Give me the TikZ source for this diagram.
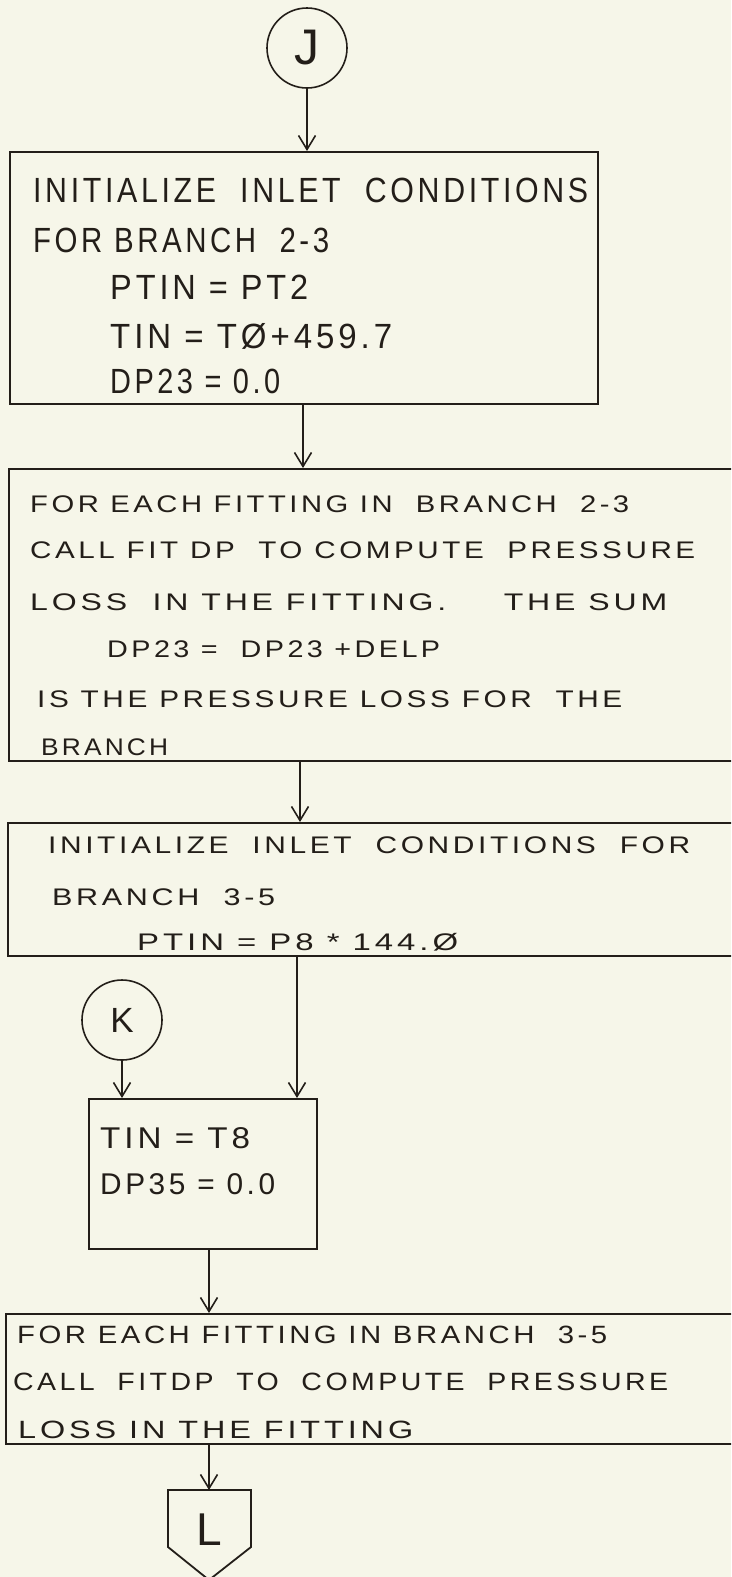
\documentclass[tikz,border=0pt]{standalone}
\usepackage{fontspec}
\usepackage{graphicx}
\setmainfont{Liberation Sans}[LetterSpace=12]
\usetikzlibrary{arrows.meta}
\definecolor{paper}{RGB}{246,246,233}
\definecolor{ink}{RGB}{35,30,25}
\newcommand\fitw[2]{\resizebox{#1pt}{\height}{#2}}
\tikzset{
  every picture/.style={x=1pt,y=-1pt},
  box/.style={draw=ink, line width=1.8pt, rectangle, anchor=north west, inner sep=0pt},
  conn/.style={circle, draw=ink, line width=1.6pt, minimum size=80pt, inner sep=0pt, text=ink},
  tl/.style={anchor=base west, inner sep=0pt, text=ink},
  arr/.style={draw=ink, line width=1.6pt, -{Straight Barb[length=14pt,width=17pt,line width=1.6pt]}},
  fA/.style={font=\fontsize{35}{40}\selectfont},
  fB/.style={font=\fontsize{24}{28}\selectfont},
  fC/.style={font=\fontsize{30}{34}\selectfont},
  fD/.style={font=\fontsize{25}{29}\selectfont}
}
\begin{document}
\begin{tikzpicture}
\path[use as bounding box] (0,0) rectangle (731,1577);
\clip (0,0) rectangle (731,1577);
\fill[paper] (0,0) rectangle (731,1577);

% connectors J and K
\node[conn, font=\fontsize{50}{54}\selectfont] (J) at (307,48) {J};
\node[conn, font=\fontsize{35}{40}\selectfont] (K) at (122,1020) {K};

% boxes
\node[box, minimum width=588pt, minimum height=252pt] (b1) at (9,151) {};
\node[box, minimum width=760pt, minimum height=292pt] (b2) at (8,468) {};
\node[box, minimum width=760pt, minimum height=133pt] (b3) at (7,822) {};
\node[box, minimum width=228pt, minimum height=150pt] (b4) at (88,1098) {};
\node[box, minimum width=760pt, minimum height=130pt] (b5) at (5,1313) {};

% box 1 text
\node[tl,fA] (t11) at (33,202) {\fitw{555}{INITIALIZE\ \ INLET\ \ CONDITIONS}};
\node[tl,fA] (t12) at (33,252) {\fitw{296}{FOR BRANCH\ \ 2-3}};
\node[tl,fA] (t13) at (110,299) {\fitw{198}{PTIN = PT2}};
\node[tl,fA] (t14) at (110,348) {\fitw{282}{TIN = TØ+459.7}};
\node[tl,fA] (t15) at (110,393) {\fitw{170}{DP23 = 0.0}};

% box 2 text
\node[tl,fB] (t21) at (30,512) {\fitw{599}{FOR EACH FITTING IN\ \ BRANCH\ \ 2-3}};
\node[tl,fB] (t22) at (30,558) {\fitw{665}{CALL FIT DP\ \ TO COMPUTE\ \ PRESSURE}};
\node[tl,fB] (t23) at (30,610) {\fitw{637}{LOSS\ \ IN THE FITTING.\quad\ \ THE SUM}};
\node[tl,fB] (t24) at (107,657) {\fitw{333}{DP23 =\ \ DP23 +DELP}};
\node[tl,fB] (t25) at (37,707) {\fitw{585}{IS THE PRESSURE LOSS FOR\ \ THE}};
\node[tl,fB] (t26) at (41,755) {\fitw{127}{BRANCH}};

% box 3 text
\node[tl,fB] (t31) at (48,853) {\fitw{642}{INITIALIZE\ \ INLET\ \ CONDITIONS\ \ FOR}};
\node[tl,fB] (t32) at (52,905) {\fitw{223}{BRANCH\ \ 3-5}};
\node[tl,fB] (t33) at (137,950) {\fitw{321}{PTIN = P8 * 144.Ø}};

% box 4 text
\node[tl,fC] (t41) at (100,1148) {\fitw{150}{TIN = T8}};
\node[tl,fC] (t42) at (100,1194) {\fitw{175}{DP35 = 0.0}};

% box 5 text
\node[tl,fD] (t51) at (17,1343) {\fitw{590}{FOR EACH FITTING IN BRANCH\ \ 3-5}};
\node[tl,fD] (t52) at (13,1390) {\fitw{655}{CALL\ \ FITDP\ \ TO\ \ COMPUTE\ \ PRESSURE}};
\node[tl,fD] (t53) at (18,1438) {\fitw{395}{LOSS IN THE FITTING}};

% off-page connector L
\coordinate (Ltop) at (209,1490);
\draw[ink, line width=1.8pt, line join=miter] (168,1490) -- (251,1490) -- (251,1547) -- (209,1580) -- (168,1547) -- cycle;
\node[inner sep=0pt, text=ink, font=\fontsize{46}{50}\selectfont] (L) at (209,1530) {L};

% connector x positions
\coordinate (x12) at (303,0);
\coordinate (x23) at (300,0);
\coordinate (x34) at (297,0);
\coordinate (x45) at (209,0);

% arrows
\draw[arr] (J.south) -- (J.south |- b1.north);
\draw[arr] (b1.south -| x12) -- (b2.north -| x12);
\draw[arr] (b2.south -| x23) -- (b3.north -| x23);
\draw[arr] (b3.south -| x34) -- (b4.north -| x34);
\draw[arr] (K.south) -- (K.south |- b4.north);
\draw[arr] (b4.south -| x45) -- (b5.north -| x45);
\draw[arr] (b5.south -| Ltop) -- (Ltop);
\end{tikzpicture}
\end{document}
